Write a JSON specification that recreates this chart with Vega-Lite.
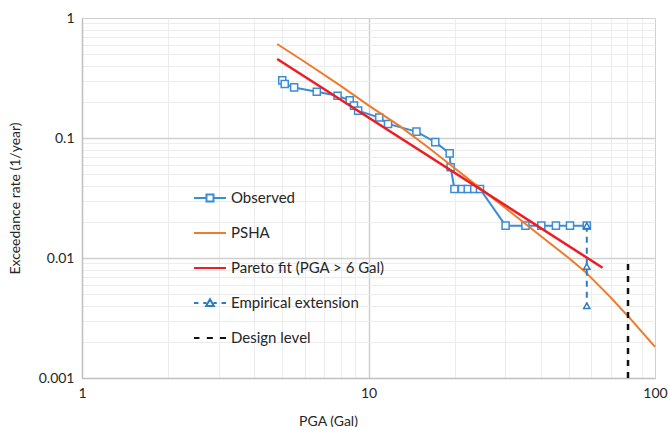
{
  "$schema": "https://vega.github.io/schema/vega-lite/v6.json",
  "width": 573,
  "height": 360,
  "autosize": "none",
  "padding": {"left": 82, "top": 18, "right": 13, "bottom": 49},
  "background": "white",
  "config": {
    "view": {"stroke": null},
    "font": "Lato",
    "axis": {"labelFont": "Lato", "titleFont": "Lato", "labelColor": "#262626", "titleColor": "#262626", "titleFontWeight": "normal", "labelFontSize": 14, "titleFontSize": 14}
  },
  "data": {
    "values": [
      {"series": "Observed", "pga": 5.0, "rate": 0.302},
      {"series": "Observed", "pga": 5.1, "rate": 0.282},
      {"series": "Observed", "pga": 5.5, "rate": 0.264},
      {"series": "Observed", "pga": 6.6, "rate": 0.243},
      {"series": "Observed", "pga": 7.8, "rate": 0.225},
      {"series": "Observed", "pga": 8.6, "rate": 0.206},
      {"series": "Observed", "pga": 8.9, "rate": 0.186},
      {"series": "Observed", "pga": 9.2, "rate": 0.169},
      {"series": "Observed", "pga": 10.9, "rate": 0.148},
      {"series": "Observed", "pga": 11.7, "rate": 0.131},
      {"series": "Observed", "pga": 14.7, "rate": 0.113},
      {"series": "Observed", "pga": 17.1, "rate": 0.0924},
      {"series": "Observed", "pga": 19.2, "rate": 0.0745},
      {"series": "Observed", "pga": 19.35, "rate": 0.057},
      {"series": "Observed", "pga": 19.95, "rate": 0.0376},
      {"series": "Observed", "pga": 21.2, "rate": 0.0376},
      {"series": "Observed", "pga": 22.2, "rate": 0.0376},
      {"series": "Observed", "pga": 23.4, "rate": 0.0376},
      {"series": "Observed", "pga": 24.5, "rate": 0.0376},
      {"series": "Observed", "pga": 30.1, "rate": 0.0186},
      {"series": "Observed", "pga": 35.3, "rate": 0.0186},
      {"series": "Observed", "pga": 40.1, "rate": 0.0186},
      {"series": "Observed", "pga": 45.1, "rate": 0.0186},
      {"series": "Observed", "pga": 50.5, "rate": 0.0186},
      {"series": "Observed", "pga": 57.8, "rate": 0.0186},
      {"series": "PSHA", "pga": 4.8, "rate": 0.607},
      {"series": "PSHA", "pga": 6, "rate": 0.43},
      {"series": "PSHA", "pga": 8, "rate": 0.272},
      {"series": "PSHA", "pga": 10, "rate": 0.187},
      {"series": "PSHA", "pga": 12.9, "rate": 0.125},
      {"series": "PSHA", "pga": 16, "rate": 0.085},
      {"series": "PSHA", "pga": 20, "rate": 0.056},
      {"series": "PSHA", "pga": 24.5, "rate": 0.0382},
      {"series": "PSHA", "pga": 30, "rate": 0.0262},
      {"series": "PSHA", "pga": 40, "rate": 0.0152},
      {"series": "PSHA", "pga": 50, "rate": 0.01},
      {"series": "PSHA", "pga": 57, "rate": 0.0077},
      {"series": "PSHA", "pga": 70, "rate": 0.0047},
      {"series": "PSHA", "pga": 81.7, "rate": 0.00315},
      {"series": "PSHA", "pga": 100, "rate": 0.00182},
      {"series": "Pareto fit (PGA > 6 Gal)", "pga": 4.8, "rate": 0.455},
      {"series": "Pareto fit (PGA > 6 Gal)", "pga": 65.6, "rate": 0.0083},
      {"series": "Empirical extension", "pga": 57.8, "rate": 0.0186},
      {"series": "Empirical extension", "pga": 57.8, "rate": 0.0085},
      {"series": "Empirical extension", "pga": 57.8, "rate": 0.004},
      {"series": "Design level", "pga": 80.5, "rate": 0.001},
      {"series": "Design level", "pga": 80.5, "rate": 0.0095}
    ]
  },
  "encoding": {
    "x": {
      "field": "pga", "type": "quantitative", "title": "PGA (Gal)",
      "scale": {"type": "log", "domain": [1, 100], "nice": false},
      "axis": {
        "values": [1,2,3,4,5,6,7,8,9,10,20,30,40,50,60,70,80,90,100],
        "format": "~g",
        "labelExpr": "(datum.value == 1 || datum.value == 10 || datum.value == 100) ? datum.label : ''",
        "ticks": false, "labelPadding": 8, "domainColor": "#bfbfbf", "domainWidth": 1.5,
        "gridColor": {"condition": {"test": "datum.value == 1 || datum.value == 10 || datum.value == 100", "value": "#d0d0d0"}, "value": "#ececec"},
        "gridWidth": {"condition": {"test": "datum.value == 10", "value": 1.5}, "value": 1},
        "labelFlush": false, "labelOverlap": false,
        "titleX": 246, "titlePadding": 14
      }
    },
    "y": {
      "field": "rate", "type": "quantitative", "title": "Exceedance rate (1/year)",
      "scale": {"type": "log", "domain": [0.001, 1], "nice": false},
      "axis": {
        "values": [0.001,0.002,0.003,0.004,0.005,0.006,0.007,0.008,0.009,0.01,0.02,0.03,0.04,0.05,0.06,0.07,0.08,0.09,0.1,0.2,0.3,0.4,0.5,0.6,0.7,0.8,0.9,1],
        "format": "~g",
        "labelExpr": "(datum.value == 1 || datum.value == 0.1 || datum.value == 0.01 || datum.value == 0.001) ? datum.label : ''",
        "ticks": false, "labelPadding": 8, "domainColor": "#bfbfbf", "domainWidth": 1.5,
        "gridColor": {"condition": {"test": "datum.value == 1 || datum.value == 0.1 || datum.value == 0.01 || datum.value == 0.001", "value": "#d0d0d0"}, "value": "#ececec"},
        "gridWidth": {"condition": {"test": "datum.value == 0.1 || datum.value == 0.01", "value": 1.5}, "value": 1},
        "labelFlush": false, "labelOverlap": false,
        "titlePadding": 16
      }
    },
    "color": {
      "field": "series", "type": "nominal",
      "scale": {
        "domain": ["Observed", "PSHA", "Pareto fit (PGA > 6 Gal)", "Empirical extension", "Design level"],
        "range": ["#3a8dd4", "#ef7b2a", "#ee1c24", "#2e7cc4", "#111111"]
      },
      "legend": {
        "orient": "none", "legendX": 111, "legendY": 163, "title": null,
        "symbolSize": 1024, "symbolStrokeWidth": 2,
        "labelFont": "Lato", "labelFontSize": 15, "labelColor": "#262626", "labelOffset": 4,
        "rowPadding": 10,
        "encode": {
          "symbols": {
            "update": {
              "shape": {"signal": "datum.value === 'Observed' ? 'M-1,0H-0.22M0.22,0H1M-0.22,-0.22H0.22V0.22H-0.22Z' : datum.value === 'Empirical extension' ? 'M-1,0H-0.72M-0.42,0H-0.22M0.22,0H0.42M0.72,0H1M0,-0.24L0.24,0.18H-0.24Z' : datum.value === 'Design level' ? 'M-1,0H-0.66M-0.2,0H0.18M0.62,0H1' : 'M-1,0H1'"},
              "fill": {"value": "white"},
              "fillOpacity": {"value": 1},
              "strokeDash": {"value": []},
              "strokeWidth": {"value": 2}
            }
          }
        }
      }
    }
  },
  "layer": [
    {
      "transform": [{"filter": "datum.series === 'Observed'"}],
      "mark": {"type": "line", "strokeWidth": 2}
    },
    {
      "transform": [{"filter": "datum.series === 'Observed'"}],
      "mark": {"type": "point", "shape": "square", "size": 50, "fill": "white", "fillOpacity": 1, "strokeWidth": 1.5, "opacity": 1}
    },
    {
      "transform": [{"filter": "datum.series === 'PSHA'"}],
      "mark": {"type": "line", "strokeWidth": 2}
    },
    {
      "transform": [{"filter": "datum.series === 'Pareto fit (PGA > 6 Gal)'"}],
      "mark": {"type": "line", "strokeWidth": 2.5}
    },
    {
      "transform": [{"filter": "datum.series === 'Empirical extension'"}],
      "mark": {"type": "line", "strokeWidth": 2, "strokeDash": [6, 5]}
    },
    {
      "transform": [{"filter": "datum.series === 'Empirical extension'"}],
      "mark": {"type": "point", "shape": "triangle-up", "size": 40, "fill": "white", "fillOpacity": 1, "strokeWidth": 1.5, "opacity": 1}
    },
    {
      "transform": [{"filter": "datum.series === 'Design level'"}],
      "mark": {"type": "line", "strokeWidth": 2.5, "strokeDash": [6, 6]}
    }
  ]
}
